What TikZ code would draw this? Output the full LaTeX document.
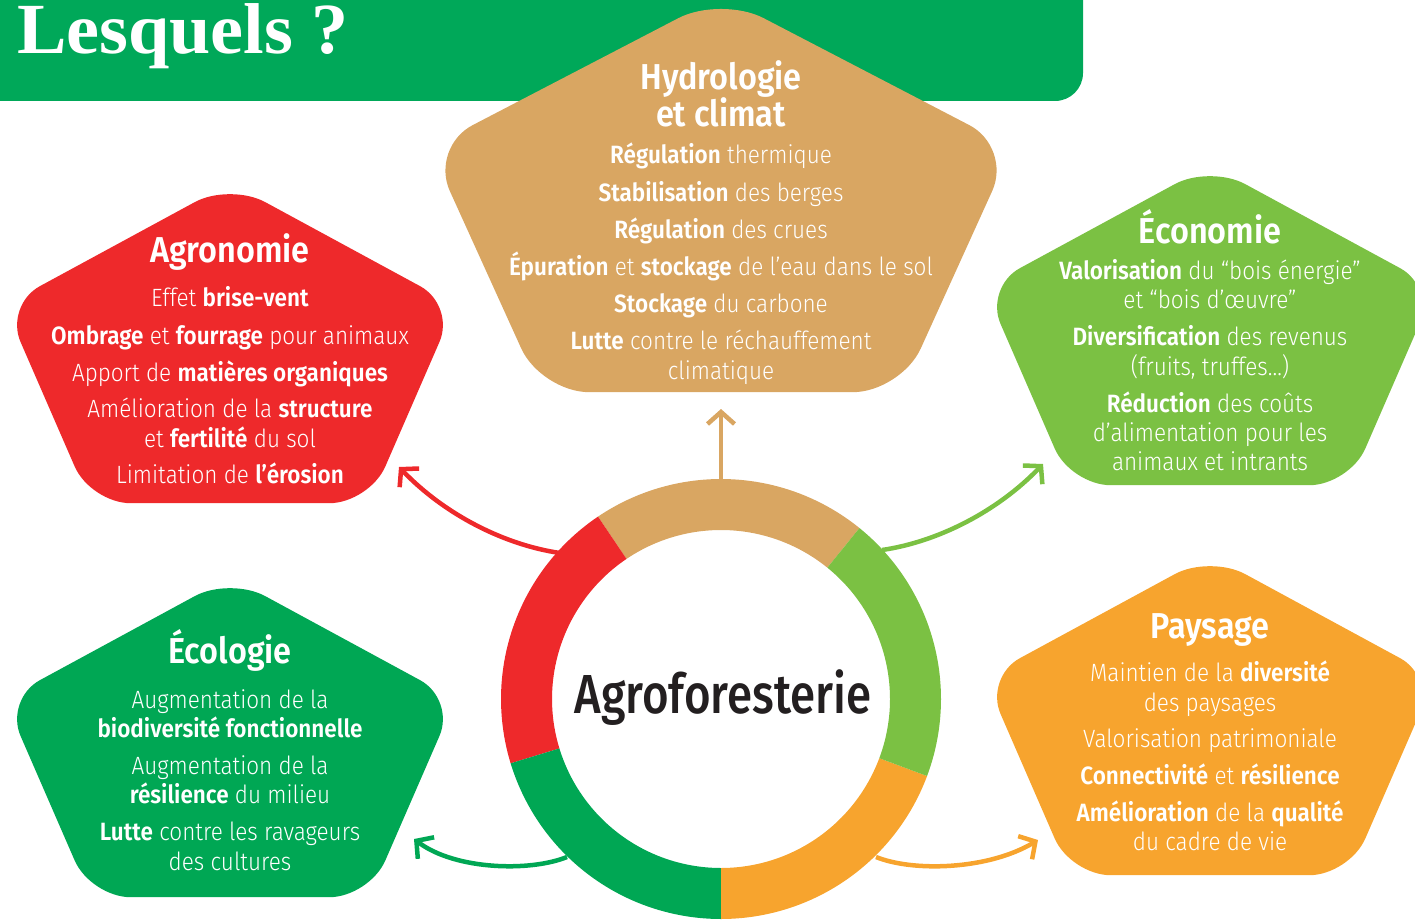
\documentclass[tikz,border=0pt]{standalone}
\usepackage{fontspec}
\setmainfont{Fira Sans}[UprightFont={* Light},BoldFont={* SemiBold},FakeStretch=0.9]
\newfontfamily\cfont{Fira Sans}[UprightFont={* Medium},FakeStretch=0.83]
\newfontfamily\hfont{Liberation Serif}[UprightFont={* Bold},FakeStretch=1.03]
\usetikzlibrary{arrows.meta}
\definecolor{hdrgreen}{RGB}{0,168,89}
\definecolor{agred}{RGB}{238,41,43}
\definecolor{hytan}{RGB}{217,166,98}
\definecolor{ecolight}{RGB}{123,193,67}
\definecolor{ecodark}{RGB}{0,167,84}
\definecolor{payor}{RGB}{247,164,46}
\definecolor{inkblack}{RGB}{35,31,32}
\newcommand\mypent[5]{%
  \fill[#1] (#2,{#3+0.809*#5}) -- ({#2-0.588*#4},{#3+0.809*#5}) -- ({#2-0.951*#4},{#3-0.309*#5})
   -- (#2,{#3-#5}) -- ({#2+0.951*#4},{#3-0.309*#5}) -- ({#2+0.588*#4},{#3+0.809*#5}) -- cycle;}
\newcommand\putline[4]{\node[#1] (#2) at (#3) {#4};}
\newcommand\ringseg[3]{%
  \fill[#1] plot[domain=#2:#3,samples=50] ({721+220*cos(\x)},{699-220*sin(\x)})
   -- plot[domain=#3:#2,samples=50] ({721+169*cos(\x)},{699-169*sin(\x)}) -- cycle;}
\begin{document}
\begin{tikzpicture}[x=1pt,y=-1pt,
  txt/.style={text=white,inner sep=0pt,anchor=base,font=\fontsize{25}{30}\selectfont},
  ttl/.style={text=white,inner sep=0pt,anchor=base,font=\fontsize{36}{40}\selectfont\bfseries},
  arr/.style={line width=4.5pt,-{Straight Barb[length=12pt,width=27pt]}},
  pent/.style={rounded corners=40pt}]
\useasboundingbox (0,0) rectangle (1415,920);
% header
\fill[hdrgreen] (0,-5) -- (1083,-5) [rounded corners=28pt] -- (1083,101) [sharp corners] -- (0,101) -- cycle;
\node[anchor=base west,inner sep=0pt,text=white,font=\hfont\fontsize{72}{72}\selectfont] (title) at (17,54) {Lesquels ?};
% pentagons
\mypent{hytan,rounded corners=48pt}{721}{215}{306}{219}
\mypent{agred,pent}{230}{360}{237}{177}
\mypent{ecolight,pent}{1210}{342}{237}{177}
\mypent{ecodark,pent}{230}{754}{237}{177}
\mypent{payor,pent}{1210}{732}{237}{177}
% connector ends
\coordinate (rT) at (721,480);
\coordinate (hyT) at (721,409);
\coordinate (rR) at (560,553);
\coordinate (agT) at (399,467);
\coordinate (rE) at (882,550);
\coordinate (ecT) at (1043,464);
\coordinate (rD) at (567,857);
\coordinate (edT) at (414,839);
\coordinate (rO) at (876,857);
\coordinate (paT) at (1038,840);
\draw[arr,hytan] (rT) -- (hyT);
\draw[arr,agred] (rR) .. controls (505,545) and (445,515) .. (agT);
\draw[arr,ecolight] (rE) .. controls (937,542) and (997,512) .. (ecT);
\draw[arr,ecodark] (rD) .. controls (530,872) and (455,870) .. (edT);
\draw[arr,payor] (rO) .. controls (913,872) and (988,870) .. (paT);
% ring
\ringseg{hytan}{51}{124}
\ringseg{agred}{124}{197}
\ringseg{ecodark}{197}{270}
\ringseg{payor}{270}{339.5}
\ringseg{ecolight}{339.5}{411}
\node[font=\cfont\fontsize{55}{55}\selectfont,text=inkblack,anchor=base,inner sep=0pt] (center) at (723,713) {Agroforesterie};
% Hydrologie
\putline{ttl}{hy0}{721,90}{Hydrologie}
\putline{ttl}{hy1}{721,127}{et climat}
\putline{txt}{hy2}{721,164}{\textbf{Régulation} thermique}
\putline{txt}{hy3}{721,201}{\textbf{Stabilisation} des berges}
\putline{txt}{hy4}{721,238}{\textbf{Régulation} des crues}
\putline{txt}{hy5}{721,275}{\textbf{Épuration} et \textbf{stockage} de l’eau dans le sol}
\putline{txt}{hy6}{721,312}{\textbf{Stockage} du carbone}
\putline{txt}{hy7}{721,349}{\textbf{Lutte} contre le réchauffement}
\putline{txt}{hy8}{721,379}{climatique}
% Agronomie
\putline{ttl}{ag0}{230,262}{Agronomie}
\putline{txt}{ag1}{230,306}{Effet \textbf{brise-vent}}
\putline{txt}{ag2}{230,344}{\textbf{Ombrage} et \textbf{fourrage} pour animaux}
\putline{txt}{ag3}{230,381}{Apport de \textbf{matières organiques}}
\putline{txt}{ag4}{230,417}{Amélioration de la \textbf{structure}}
\putline{txt}{ag5}{230,447}{et \textbf{fertilité} du sol}
\putline{txt}{ag6}{230,483}{Limitation de \textbf{l’érosion}}
% Economie
\putline{ttl}{ec0}{1210,243}{Économie}
\putline{txt}{ec1}{1210,279}{\textbf{Valorisation} du “bois énergie”}
\putline{txt}{ec2}{1210,308}{et “bois d’œuvre”}
\putline{txt}{ec3}{1210,345}{\textbf{Diversification} des revenus}
\putline{txt}{ec4}{1210,375}{(fruits, truffes…)}
\putline{txt}{ec5}{1210,412}{\textbf{Réduction} des coûts}
\putline{txt}{ec6}{1210,441}{d’alimentation pour les}
\putline{txt}{ec7}{1210,470}{animaux et intrants}
% Ecologie
\putline{ttl}{el0}{230,663}{Écologie}
\putline{txt}{el1}{230,708}{Augmentation de la}
\putline{txt}{el2}{230,737}{\textbf{biodiversité fonctionnelle}}
\putline{txt}{el3}{230,774}{Augmentation de la}
\putline{txt}{el4}{230,803}{\textbf{résilience} du milieu}
\putline{txt}{el5}{230,840}{\textbf{Lutte} contre les ravageurs}
\putline{txt}{el6}{230,870}{des cultures}
% Paysage
\putline{ttl}{pa0}{1210,638}{Paysage}
\putline{txt}{pa1}{1210,681}{Maintien de la \textbf{diversité}}
\putline{txt}{pa2}{1210,711}{des paysages}
\putline{txt}{pa3}{1210,747}{Valorisation patrimoniale}
\putline{txt}{pa4}{1210,784}{\textbf{Connectivité} et \textbf{résilience}}
\putline{txt}{pa5}{1210,821}{\textbf{Amélioration} de la \textbf{qualité}}
\putline{txt}{pa6}{1210,850}{du cadre de vie}
\end{tikzpicture}
\end{document}
